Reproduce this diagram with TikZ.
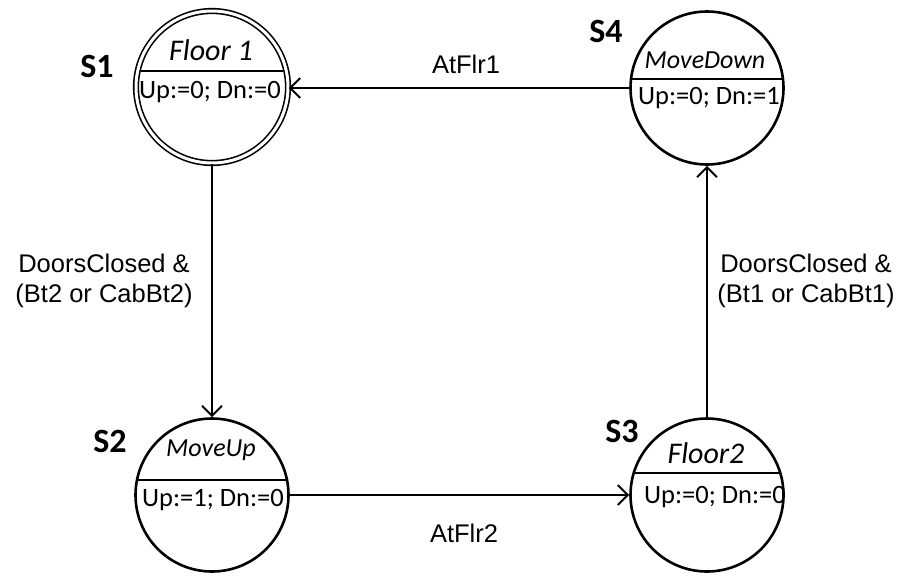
\documentclass[tikz,border=0pt]{standalone}
\usepackage{fontspec}
\setmainfont{Carlito}
\newfontfamily\arialf{Liberation Sans}
\usetikzlibrary{arrows.meta,calc}
\begin{document}
\begin{tikzpicture}[x=1pt,y=-1pt,
  state/.style={circle,draw,line width=2.6pt,minimum size=153pt,inner sep=0pt},
  dstate/.style={circle,draw,line width=1.6pt,double,double distance=3pt,minimum size=152pt,inner sep=0pt},
  divider/.style={line width=2.2pt},
  conn/.style={line width=2pt,-{Straight Barb[length=10pt,width=20pt,line width=2pt]}},
  title/.style={font=\fontsize{30}{34}\itshape},
  titlem/.style={font=\fontsize{26}{30}\itshape},
  body/.style={font=\fontsize{26.5}{30}\selectfont},
  slabel/.style={font=\fontsize{34}{38}\bfseries},
  tlabel/.style={font=\arialf\fontsize{25.5}{30}\selectfont,align=center}]
\useasboundingbox (0,0) rectangle (904,576);
% states
\node[dstate] (s1) at (212,87) {};
\node[state] (s4) at (707,88) {};
\node[state] (s2) at (212,495) {};
\node[state] (s3) at (707,495) {};
% dividers
\draw[divider] ($(s1)+(-72,-16)$) -- ($(s1)+(72,-16)$);
\draw[divider] ($(s4)+(-77,-9)$) -- ($(s4)+(77,-9)$);
\draw[divider] ($(s2)+(-75,-15)$) -- ($(s2)+(75,-15)$);
\draw[divider] ($(s3)+(-74,-22)$) -- ($(s3)+(74,-22)$);
% state texts
\node[title] (t1) at (211,50) {Floor 1};
\node[body] (b1) at (210,92) {Up:=0; Dn:=0};
\node[titlem] (t4) at (705,60) {MoveDown};
\node[body] (b4) at (709,98) {Up:=0; Dn:=1};
\node[titlem] (t2) at (211,450) {MoveUp};
\node[body] (b2) at (213,500) {Up:=1; Dn:=0};
\node[title] (t3) at (706,453) {Floor2};
\node[body] (b3) at (715,497) {Up:=0; Dn:=0};
% state labels
\node[slabel] (l1) at (97,66) {S1};
\node[slabel] (l4) at (606,31) {S4};
\node[slabel] (l2) at (110,441) {S2};
\node[slabel] (l3) at (622,431) {S3};
% connectors
\draw[conn] (s1.south) -- (s2.north);
\draw[conn] (s2.east) -- (s3.west);
\draw[conn] (s3.north) -- (s4.south);
\draw[conn] (s4.west) -- (s4.west -| s1.east);
% transition labels
\node[tlabel] (a1) at (466,64) {AtFlr1};
\node[tlabel] (a2) at (464,533) {AtFlr2};
\node[tlabel] (c1) at (104,281) {DoorsClosed \&\\(Bt2 or CabBt2)};
\node[tlabel] (c2) at (806,281) {DoorsClosed \&\\(Bt1 or CabBt1)};
\end{tikzpicture}
\end{document}
